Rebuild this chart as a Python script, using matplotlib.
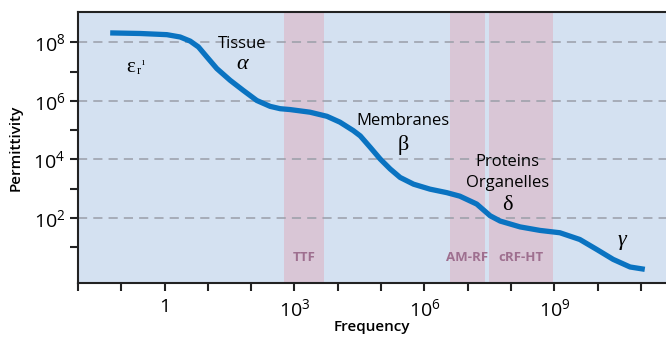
import numpy as np
import matplotlib
matplotlib.use('Agg')
import matplotlib.pyplot as plt

plt.rcParams['font.family'] = ['Open Sans', 'DejaVu Sans']
plt.rcParams['mathtext.fontset'] = 'custom'
plt.rcParams['mathtext.rm'] = 'Open Sans'
plt.rcParams['mathtext.it'] = 'Open Sans:italic'

# log10(frequency), log10(permittivity)
log_f = [-1.255, -0.562, 0.054, 0.361, 0.592, 0.783, 0.977, 1.208, 1.515, 1.822,
         2.131, 2.438, 2.669, 2.90, 3.36, 3.75, 4.05, 4.36, 4.52, 4.75, 4.98,
         5.21, 5.44, 5.75, 6.13, 6.52, 6.82, 7.21, 7.52, 7.75, 8.21, 8.67, 9.13,
         9.59, 9.98, 10.36, 10.75, 11.09]
log_eps = [8.32, 8.30, 8.26, 8.18, 8.04, 7.84, 7.50, 7.10, 6.70, 6.35,
           6.01, 5.81, 5.73, 5.70, 5.61, 5.47, 5.27, 4.98, 4.80, 4.41, 4.01,
           3.67, 3.38, 3.15, 2.98, 2.86, 2.74, 2.47, 2.07, 1.89, 1.69, 1.57, 1.49,
           1.26, 0.92, 0.58, 0.32, 0.24]

# frequency bands (log10 start, log10 end)
band_names = ['TTF', 'AM-RF', 'cRF-HT']
band_lo = [2.75, 6.6, 7.5]
band_hi = [3.69, 7.39, 8.98]
band_label_x = [3.23, 6.99, 8.24]

x_tick_labels = {0: '1', 3: r'$\mathregular{10^3}$', 6: r'$\mathregular{10^6}$',
                 9: r'$\mathregular{10^9}$'}
y_tick_labels = {2: r'$\mathregular{10^2}$', 4: r'$\mathregular{10^4}$',
                 6: r'$\mathregular{10^6}$', 8: r'$\mathregular{10^8}$'}

bg = '#d4e1f1'
band_col = '#d9c6d6'
band_txt = '#9e6f8f'
line_col = '#0a73c1'

fig = plt.figure(figsize=(6.66, 3.37), dpi=100)
ax = fig.add_axes([0.117, 0.160, 0.883, 0.804])
ax.set_facecolor(bg)
ax.set_xscale('log')
ax.set_yscale('log')
ax.set_xlim(10**-2, 10**11.58)
ax.set_ylim(10**-0.23, 10**9.03)

for lo, hi in zip(band_lo, band_hi):
    ax.axvspan(10**lo, 10**hi, color=band_col, lw=0, zorder=1)
for name, xl in zip(band_names, band_label_x):
    ax.text(10**xl, 10**0.66, name, color=band_txt, fontsize=9.5, fontweight='bold',
            ha='center', va='center', zorder=3)

for k in y_tick_labels:
    ax.axhline(10**k, color='#9a9ea8', lw=1.1, ls=(0, (6, 4)), zorder=2)

ax.plot(10**np.array(log_f), 10**np.array(log_eps), color=line_col, lw=3.8,
        solid_capstyle='butt', solid_joinstyle='round', zorder=4)

# annotations
serif = ['Liberation Serif', 'DejaVu Serif']
ax.text(10**-0.79, 10**7.13, 'ε', fontsize=15, family=serif, ha='center', va='center')
ax.text(10**-0.6, 10**7.02, 'r', fontsize=9, family=serif, ha='center', va='center')
ax.text(10**-0.5, 10**7.3, 'ı', fontsize=7, family=serif, ha='center', va='center')
ax.text(10**1.8, 10**7.95, 'Tissue', fontsize=12, ha='center', va='center')
ax.text(10**1.8, 10**7.25, 'α', fontsize=16, family=serif, style='italic', ha='center', va='center')
ax.text(10**5.5, 10**5.32, 'Membranes', fontsize=12, ha='center', va='center')
ax.text(10**5.52, 10**4.5, 'β', fontsize=16, family=serif, ha='center', va='center')
ax.text(10**7.91, 10**3.92, 'Proteins', fontsize=12, ha='center', va='center', zorder=5)
ax.text(10**7.91, 10**3.2, 'Organelles', fontsize=12, ha='center', va='center', zorder=5)
ax.text(10**7.91, 10**2.42, 'δ', fontsize=16, family=serif, ha='center', va='center')
ax.text(10**10.56, 10**1.22, 'γ', fontsize=16, family=serif, style='italic', ha='center', va='center')

# ticks
xt = np.arange(-2, 12)
ax.set_xticks(10.0**xt)
ax.set_xticklabels([x_tick_labels.get(int(k), '') for k in xt], fontsize=14)
yt = np.arange(1, 9)
ax.set_yticks(10.0**yt)
ax.set_yticklabels([y_tick_labels.get(int(k), '') for k in yt], fontsize=14)
ax.minorticks_off()
ax.tick_params(axis='both', direction='out', length=6, width=1.5, color='#222222', pad=3)
ax.tick_params(axis='x', pad=5)

for s in ['left', 'bottom', 'top']:
    ax.spines[s].set_linewidth(1.5)
    ax.spines[s].set_color('#222222')
ax.spines['right'].set_visible(False)

ax.set_xlabel('Frequency', fontsize=11, fontweight='semibold', labelpad=0)
ax.set_ylabel('Permittivity', fontsize=11, fontweight='semibold', labelpad=8)

fig.savefig('out.png', dpi=100)
